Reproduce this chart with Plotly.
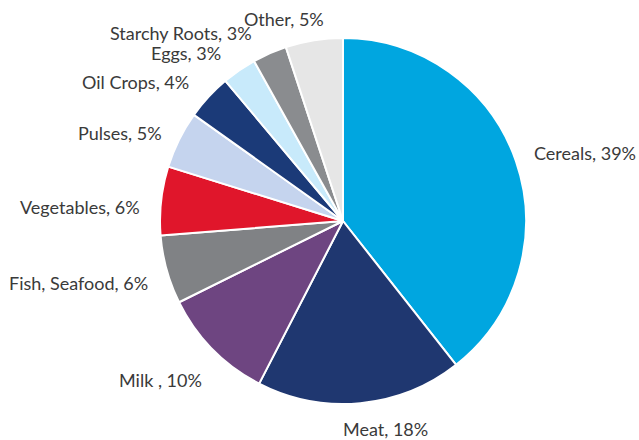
import plotly.graph_objects as go

# Share of food supply by commodity group (%)
categories = ["Cereals", "Meat", "Milk ", "Fish, Seafood", "Vegetables",
              "Pulses", "Oil Crops", "Eggs", "Starchy Roots", "Other"]
shares = [39, 18, 10, 6, 6, 5, 4, 3, 3, 5]

colors = ["#00A6E0", "#1F3770", "#6E4581", "#808285", "#E0162B",
          "#C5D4EE", "#1B3A78", "#C8EAFB", "#8A8C8F", "#E6E6E6"]

W, H = 639, 440
# Pie centre and radius in pixels
cx, cy, r = 343, 221, 183

# Label centres in pixels (layout only)
label_pos = [(585, 153), (386, 429), (160, 380), (78, 283), (80, 207),
             (120, 133), (135, 82), (186, 53), (181, 33), (284, 19)]

fig = go.Figure(go.Pie(
    labels=categories,
    values=shares,
    sort=False,
    direction="clockwise",
    rotation=0,
    marker=dict(colors=colors, line=dict(color="white", width=2)),
    textinfo="none",
    hoverinfo="label+percent",
    domain=dict(x=[(cx - r) / W, (cx + r) / W],
                y=[1 - (cy + r) / H, 1 - (cy - r) / H]),
    showlegend=False,
))

for name, val, (px, py) in zip(categories, shares, label_pos):
    fig.add_annotation(
        x=px / W, y=1 - py / H, xref="paper", yref="paper",
        text=f"{name}, {val}%", showarrow=False,
        xanchor="center", yanchor="middle",
        font=dict(family="Lato", size=18, color="#3a3a3a"),
    )

fig.update_layout(
    width=W, height=H,
    margin=dict(l=0, r=0, t=0, b=0),
    paper_bgcolor="white", plot_bgcolor="white",
)

fig.write_html("out.html")
